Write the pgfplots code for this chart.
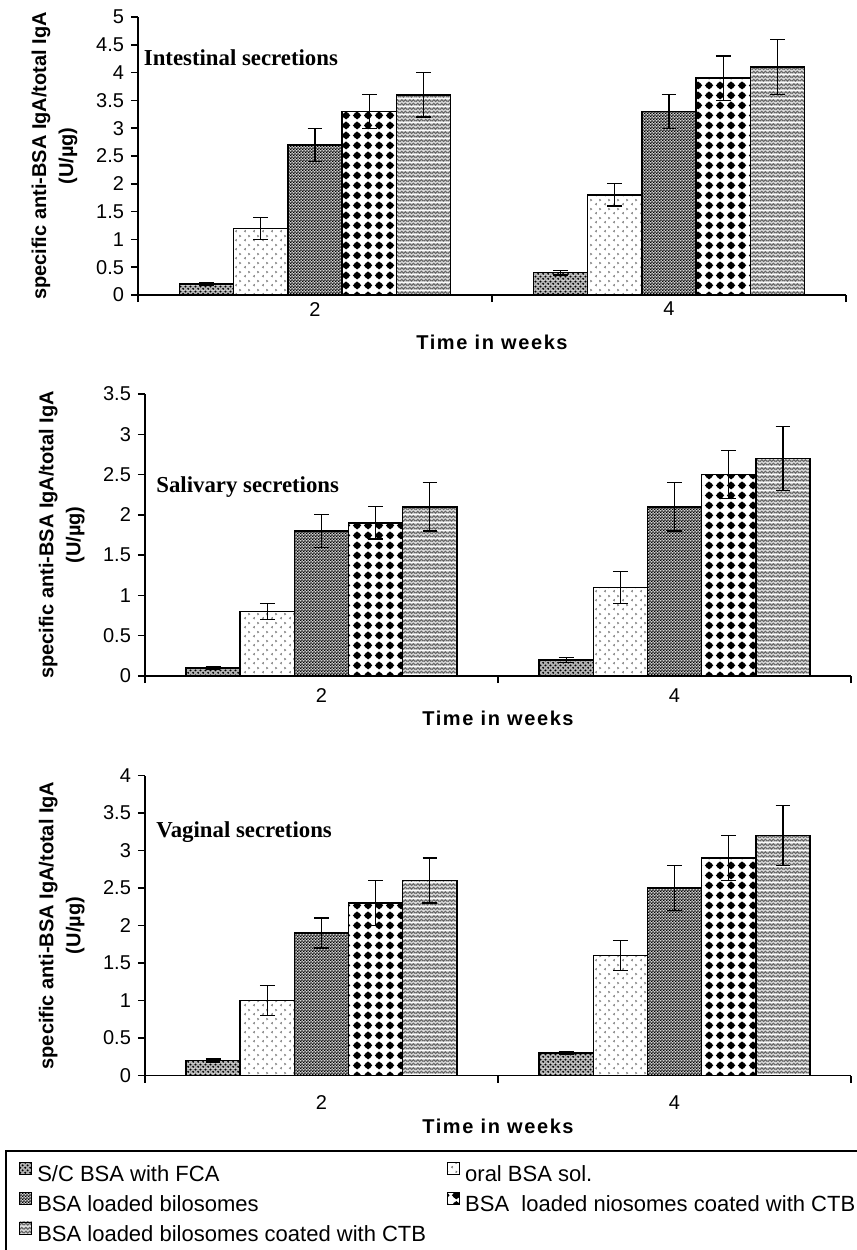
\documentclass[border=0pt]{standalone}
\usepackage{fontspec}
\setmainfont{Liberation Sans}
\newfontfamily\xlabfam[LetterSpace=8]{Liberation Sans}
\newfontfamily\titlefam{Liberation Serif}
\newcommand\tickfont{\fontsize{10}{12}\selectfont}
\newcommand\legfont{\fontsize{11}{13}\selectfont}
\newcommand\ylabfont{\bfseries\fontsize{10}{13.5}\selectfont}
\newcommand\xlabfont{\xlabfam\bfseries\fontsize{10}{12}\selectfont}
\newcommand\titlefont{\titlefam\bfseries\fontsize{11.4}{13}\selectfont}
\usepackage{pgfplots}
\pgfplotsset{compat=1.18}
\usetikzlibrary{patterns}

% fill patterns of the five groups
\pgfdeclarepatterninherentlycolored{scdots}{\pgfpointorigin}{\pgfqpoint{2.4pt}{2.4pt}}{\pgfqpoint{2.4pt}{2.4pt}}{%
  \pgfsetfillcolor{black!30}%
  \pgfpathrectangle{\pgfpointorigin}{\pgfqpoint{2.4pt}{2.4pt}}\pgfusepath{fill}%
  \pgfsetfillcolor{black}%
  \pgfpathcircle{\pgfqpoint{0.6pt}{0.6pt}}{0.55pt}%
  \pgfpathcircle{\pgfqpoint{1.8pt}{1.8pt}}{0.55pt}%
  \pgfusepath{fill}}
\pgfdeclarepatterninherentlycolored{oralsol}{\pgfpointorigin}{\pgfqpoint{4.5pt}{4.5pt}}{\pgfqpoint{4.5pt}{4.5pt}}{%
  \pgfsetstrokecolor{black!55}\pgfsetlinewidth{0.4pt}%
  \pgfpathmoveto{\pgfqpoint{1.5pt}{0.5pt}}\pgfpathlineto{\pgfqpoint{0.8pt}{1.0pt}}\pgfpathlineto{\pgfqpoint{1.5pt}{1.5pt}}%
  \pgfpathmoveto{\pgfqpoint{3.0pt}{2.75pt}}\pgfpathlineto{\pgfqpoint{3.7pt}{3.25pt}}\pgfpathlineto{\pgfqpoint{3.0pt}{3.75pt}}%
  \pgfusepath{stroke}}
\pgfdeclarepatterninherentlycolored{finecheck}{\pgfpointorigin}{\pgfqpoint{1.6pt}{1.6pt}}{\pgfqpoint{1.6pt}{1.6pt}}{%
  \pgfsetfillcolor{black!25}%
  \pgfpathrectangle{\pgfpointorigin}{\pgfqpoint{1.6pt}{1.6pt}}\pgfusepath{fill}%
  \pgfsetfillcolor{black}%
  \pgfpathrectangle{\pgfpointorigin}{\pgfqpoint{0.8pt}{0.8pt}}%
  \pgfpathrectangle{\pgfqpoint{0.8pt}{0.8pt}}{\pgfqpoint{0.8pt}{0.8pt}}%
  \pgfusepath{fill}}
\pgfdeclarepatterninherentlycolored{diadots}{\pgfpointorigin}{\pgfqpoint{5.5pt}{5pt}}{\pgfqpoint{5.5pt}{5pt}}{%
  \pgfsetfillcolor{black}%
  \pgfpathmoveto{\pgfqpoint{2.75pt}{0.3pt}}\pgfpathlineto{\pgfqpoint{5.05pt}{2.5pt}}%
  \pgfpathlineto{\pgfqpoint{2.75pt}{4.7pt}}\pgfpathlineto{\pgfqpoint{0.45pt}{2.5pt}}\pgfpathclose
  \pgfusepath{fill}%
  \pgfpathcircle{\pgfqpoint{2.75pt}{2.5pt}}{1.8pt}\pgfusepath{fill}}
\pgfdeclarepatterninherentlycolored{weave}{\pgfpointorigin}{\pgfqpoint{4pt}{4pt}}{\pgfqpoint{4pt}{4pt}}{%
  \pgfsetfillcolor{black!15}%
  \pgfpathrectangle{\pgfpointorigin}{\pgfqpoint{4pt}{4pt}}\pgfusepath{fill}%
  \pgfsetstrokecolor{black!60}\pgfsetlinewidth{0.6pt}%
  \pgfpathmoveto{\pgfqpoint{0pt}{0.5pt}}\pgfpathlineto{\pgfqpoint{1pt}{1.5pt}}\pgfpathlineto{\pgfqpoint{2pt}{0.5pt}}%
  \pgfpathlineto{\pgfqpoint{3pt}{1.5pt}}\pgfpathlineto{\pgfqpoint{4pt}{0.5pt}}%
  \pgfpathmoveto{\pgfqpoint{0pt}{2.5pt}}\pgfpathlineto{\pgfqpoint{1pt}{3.5pt}}\pgfpathlineto{\pgfqpoint{2pt}{2.5pt}}%
  \pgfpathlineto{\pgfqpoint{3pt}{3.5pt}}\pgfpathlineto{\pgfqpoint{4pt}{2.5pt}}%
  \pgfusepath{stroke}}

\pgfplotsset{
  bar/.style={draw=black, line width=0.7pt,
    legend image code/.code={\draw[##1,line width=0.45pt] (0pt,0.95pt) rectangle (6pt,6.95pt);},
    error bars/y dir=both, error bars/y explicit,
    error bars/error mark options={rotate=90, mark size=3.7pt, line width=0.6pt, black},
    error bars/error bar style={line width=0.6pt, black}},
  barA/.style={bar, pattern=scdots},
  barB/.style={bar, pattern=oralsol},
  barC/.style={bar, pattern=finecheck},
  barD/.style={bar, pattern=diadots},
  barE/.style={bar, pattern=weave},
  panel/.style={
    scale only axis, anchor=south west,
    xmin=0, xmax=2, ymin=0,
    axis lines*=left, axis line style={line width=0.75pt},
    ybar=0pt, bar width=27.1pt,
    tick align=outside, major tick length=3.5pt,
    tick style={black, line width=0.75pt},
    xtick={0,1,2}, xticklabels={},
    extra x ticks={0.5,1.5}, extra x tick labels={2,4},
    ytick distance=0.5,
    tick label style={font=\tickfont},
    /pgf/number format/assume math mode=true,
    xlabel={Time in weeks},
    xlabel style={font=\xlabfont, at={(axis description cs:0.5,0)}, anchor=center},
    ylabel={specific anti-BSA IgA/total IgA\\(U/µg)},
    ylabel style={font=\ylabfont, align=center, at={(axis description cs:-0.118,0.5)}, anchor=center},
    clip=false,
  },
}

\begin{document}
\begin{tikzpicture}
% Intestinal secretions
\begin{axis}[panel, at={(69pt,-147.5pt)}, width=354pt, height=139pt, ymax=5,
  extra x tick style={major tick length=0pt, tick style={draw=none}},
  xlabel style={yshift=-23.5pt}]
\addplot[barA] coordinates {(0.5,0.2) +- (0,0.02) (1.5,0.4) +- (0,0.04)};
\addplot[barB] coordinates {(0.5,1.2) +- (0,0.2) (1.5,1.8) +- (0,0.2)};
\addplot[barC] coordinates {(0.5,2.7) +- (0,0.3) (1.5,3.3) +- (0,0.3)};
\addplot[barD] coordinates {(0.5,3.3) +- (0,0.3) (1.5,3.9) +- (0,0.4)};
\addplot[barE] coordinates {(0.5,3.6) +- (0,0.4) (1.5,4.1) +- (0,0.5)};
\end{axis}
% Salivary secretions
\begin{axis}[panel, at={(72.5pt,-338pt)}, width=353pt, height=141pt, ymax=3.5,
  extra x tick style={major tick length=0pt, tick style={draw=none}, tick label style={yshift=-2.7pt}},
  xlabel style={yshift=-21pt}]
\addplot[barA] coordinates {(0.5,0.1) +- (0,0.015) (1.5,0.2) +- (0,0.03)};
\addplot[barB] coordinates {(0.5,0.8) +- (0,0.1) (1.5,1.1) +- (0,0.2)};
\addplot[barC] coordinates {(0.5,1.8) +- (0,0.2) (1.5,2.1) +- (0,0.3)};
\addplot[barD] coordinates {(0.5,1.9) +- (0,0.2) (1.5,2.5) +- (0,0.3)};
\addplot[barE] coordinates {(0.5,2.1) +- (0,0.3) (1.5,2.7) +- (0,0.4)};
\end{axis}
% Vaginal secretions
\begin{axis}[panel, at={(72.5pt,-537.75pt)}, width=353pt, height=150pt, ymax=4,
  extra x tick style={major tick length=0pt, tick style={draw=none}, tick label style={yshift=-6.7pt}},
  xlabel style={yshift=-25.5pt},
  legend columns=2, legend cell align=left,
  legend style={at={(axis description cs:-0.19688,-0.25167)}, anchor=north west,
    draw=none, fill=none, font=\legfont, inner xsep=6.5pt, inner ysep=5.2pt,
    nodes={inner sep=0pt, text height=8pt, text depth=2.3pt},
    row sep=2.6pt,
    /tikz/every odd column/.style={column sep=2.5pt},
    /tikz/every even column/.style={column sep=0pt}}]
\addplot[barA] coordinates {(0.5,0.2) +- (0,0.02) (1.5,0.3) +- (0,0.02)};
\addlegendentry{\makebox[205pt][l]{S/C BSA with FCA}}
\addplot[barB] coordinates {(0.5,1.0) +- (0,0.2) (1.5,1.6) +- (0,0.2)};
\addlegendentry{oral BSA sol.}
\addplot[barC] coordinates {(0.5,1.9) +- (0,0.2) (1.5,2.5) +- (0,0.3)};
\addlegendentry{\makebox[205pt][l]{BSA loaded bilosomes}}
\addplot[barD] coordinates {(0.5,2.3) +- (0,0.3) (1.5,2.9) +- (0,0.3)};
\addlegendentry{BSA\ \ loaded niosomes coated with CTB}
\addplot[barE] coordinates {(0.5,2.6) +- (0,0.3) (1.5,3.2) +- (0,0.4)};
\addlegendentry{\makebox[205pt][l]{BSA loaded bilosomes coated with CTB}}
\end{axis}
\node[anchor=base west, font=\titlefont, inner sep=0pt] at (71.75pt,-32.5pt) {Intestinal secretions};
\node[anchor=base west, font=\titlefont, inner sep=0pt] at (78pt,-246pt) {Salivary secretions};
\node[anchor=base west, font=\titlefont, inner sep=0pt] at (78pt,-418.5pt) {Vaginal secretions};
\draw[line width=0.6pt] (3pt,-575.5pt) rectangle (445pt,-640pt);
\pgfresetboundingbox
\useasboundingbox (0,0) rectangle (428.5pt,-625pt);
\end{tikzpicture}
\end{document}
